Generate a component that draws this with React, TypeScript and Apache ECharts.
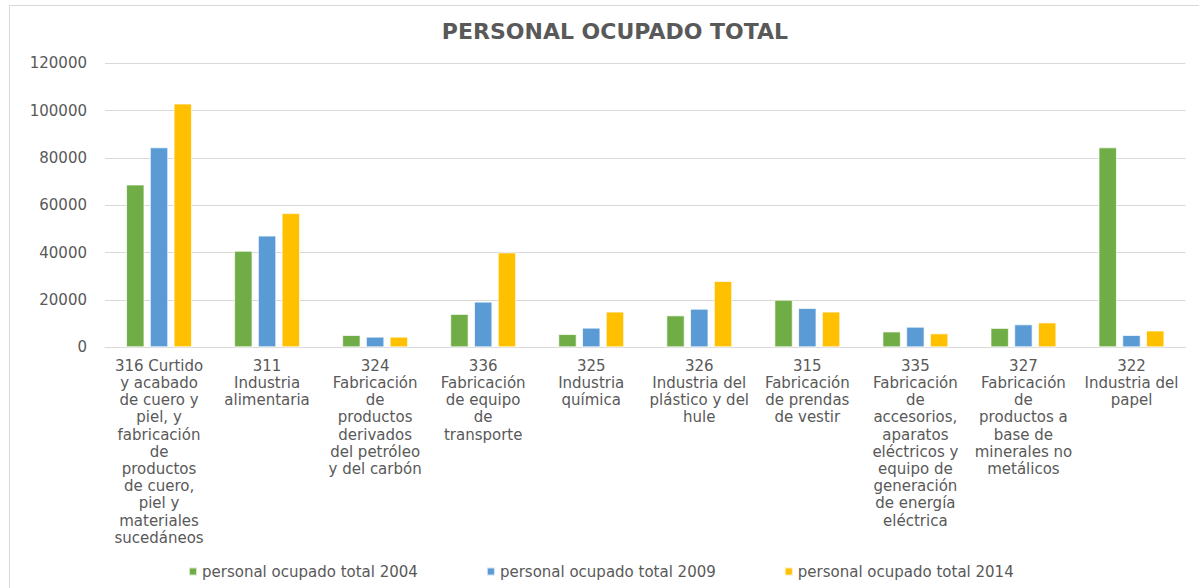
import React, { useEffect, useRef } from "react";
import * as echarts from "echarts";

const categories = [
  "316 Curtido\ny acabado\nde cuero y\npiel, y\nfabricación\nde\nproductos\nde cuero,\npiel y\nmateriales\nsucedáneos",
  "311\nIndustria\nalimentaria",
  "324\nFabricación\nde\nproductos\nderivados\ndel petróleo\ny del carbón",
  "336\nFabricación\nde equipo\nde\ntransporte",
  "325\nIndustria\nquímica",
  "326\nIndustria del\nplástico y del\nhule",
  "315\nFabricación\nde prendas\nde vestir",
  "335\nFabricación\nde\naccesorios,\naparatos\neléctricos y\nequipo de\ngeneración\nde energía\neléctrica",
  "327\nFabricación\nde\nproductos a\nbase de\nminerales no\nmetálicos",
  "322\nIndustria del\npapel",
];

const values2004 = [68800, 40800, 5200, 14100, 5600, 13500, 20100, 6700, 8200, 84500];
const values2009 = [84500, 47200, 4500, 19300, 8300, 16300, 16600, 8700, 9700, 5200];
const values2014 = [103000, 56700, 4500, 40100, 15100, 28000, 15100, 5900, 10500, 7100];

const seriesNames = [
  "personal ocupado total 2004",
  "personal ocupado total 2009",
  "personal ocupado total 2014",
];
const colors = ["#70AD47", "#5B9BD5", "#FFC000"];
const titleText = "PERSONAL OCUPADO TOTAL";

export default function App() {
  const ref = useRef<HTMLDivElement>(null);
  useEffect(() => {
    if (!ref.current) return;
    const chart = echarts.init(ref.current, null, { renderer: "svg" });
    const font = "DejaVu Sans";
    const mk = (i: number, data: number[]) => ({
      name: seriesNames[i],
      type: "bar",
      data,
      barGap: "29%",
      barCategoryGap: "39%",
      itemStyle: { color: colors[i], borderColor: "rgba(255,255,255,0.7)", borderWidth: 1 },
    });
    chart.setOption({
      animation: false,
      backgroundColor: "#ffffff",
      color: colors,
      title: {
        text: titleText,
        left: 610,
        top: 15,
        textAlign: "center",
        textStyle: { fontFamily: font, fontWeight: "bold", fontSize: 22, color: "#595959" },
      },
      graphic: [
        {
          type: "rect",
          shape: { x: 9.5, y: 5.5, width: 1300, height: 700 },
          style: { fill: "none", stroke: "#d9d9d9", lineWidth: 1 },
          silent: true,
        },
      ],
      legend: {
        left: 183,
        top: 559,
        itemWidth: 8,
        itemHeight: 8,
        itemGap: 68,
        icon: "rect",
        textStyle: { fontFamily: font, fontSize: 15, color: "#595959" },
        data: seriesNames,
      },
      grid: { left: 105, right: 13.5, top: 63.3, bottom: 240.7, containLabel: false },
      xAxis: {
        type: "category",
        data: categories,
        axisLine: { lineStyle: { color: "#d9d9d9", width: 1 } },
        axisTick: { show: false },
        axisLabel: {
          interval: 0,
          margin: 10,
          fontFamily: font,
          fontSize: 15,
          lineHeight: 17.2,
          color: "#595959",
          align: "center",
          verticalAlign: "top",
        },
      },
      yAxis: {
        type: "value",
        min: 0,
        max: 120000,
        interval: 20000,
        axisLine: { show: false },
        axisTick: { show: false },
        splitLine: { lineStyle: { color: "#d9d9d9", width: 1 } },
        axisLabel: {
          margin: 18,
          fontFamily: font,
          fontSize: 15,
          color: "#595959",
          formatter: (v: number) => String(v),
        },
      },
      series: [mk(0, values2004), mk(1, values2009), mk(2, values2014)],
    });
    return () => chart.dispose();
  }, []);
  return (
    <div
      ref={ref}
      style={{ position: "absolute", left: 0, top: 0, width: 1199, height: 588 }}
    />
  );
}
